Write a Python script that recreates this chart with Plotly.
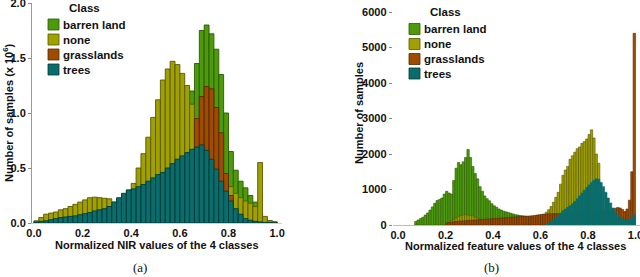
import numpy as np
import plotly.graph_objects as go

# ---------------- data ----------------
CLASSES = ["barren land", "none", "grasslands", "trees"]

# panel (a): 50 bins of width 0.02 over [0, 1], values in 10^6 samples
LEFT_BIN_WIDTH = 0.02
left_barren = [0]*29 + [0.30, 0.60, 0.90, 1.20, 1.45, 1.75, 1.80, 1.72, 1.58, 1.35,
                        1.00, 0.65, 0.48, 0.38, 0.32, 0.25, 0.19, 0.10, 0.04, 0.02, 0.01]
left_none = [0.02, 0.05, 0.08, 0.09, 0.10, 0.12, 0.13, 0.15, 0.17, 0.19,
             0.21, 0.23, 0.235, 0.23, 0.225, 0.22, 0.19, 0.22, 0.26, 0.30,
             0.36, 0.50, 0.63, 0.78, 0.96, 1.12, 1.30, 1.40, 1.47, 1.44,
             1.36, 1.25, 1.08, 0.90, 0.78, 0.70, 0.62, 0.55, 0.47, 0.40,
             0.33, 0.27, 0.23, 0.20, 0.18, 0.15, 0.55, 0.06, 0.02, 0.01]
left_grass = [0]*31 + [0.10, 0.45, 0.95, 1.15, 1.24, 1.22, 1.05, 0.82, 0.45, 0.25,
                       0.08, 0.02] + [0]*7
left_trees = [0.01, 0.015, 0.02, 0.03, 0.04, 0.05, 0.055, 0.06, 0.065, 0.075,
              0.085, 0.095, 0.11, 0.12, 0.13, 0.15, 0.19, 0.23, 0.27, 0.30,
              0.31, 0.33, 0.35, 0.38, 0.41, 0.44, 0.46, 0.50, 0.54, 0.58,
              0.61, 0.64, 0.67, 0.69, 0.71, 0.66, 0.58, 0.49, 0.38, 0.29,
              0.20, 0.13, 0.08, 0.04, 0.025, 0.015, 0.01, 0.005, 0.003, 0.001]

# panel (b): 100 bins of width 0.01 over [0, 1], values in samples
RIGHT_BIN_WIDTH = 0.01
right_barren = ([0]*7 +
                [100, 140, 180, 220, 280, 340, 420, 510, 610, 690,
                 720, 760, 870, 950, 900, 870, 1250, 1600, 1760, 1700,
                 1780, 1900, 2130, 1900, 1650, 1450, 1300, 1080, 950, 820,
                 740, 680, 600, 540, 500, 450, 420, 390, 370, 350,
                 330, 310, 290, 280, 270, 260, 250, 240, 230, 220,
                 210, 200, 190, 180, 170, 150, 130, 110, 90, 70,
                 50, 40, 30] + [0]*30)
right_none = ([0]*20 +
              [40, 70, 110, 150, 200, 240, 260, 280, 290, 280,
               270, 250, 220, 190, 170, 150, 140, 130, 120, 110] +
              [100]*15 +
              [110, 120, 140, 170, 210, 250, 300, 360, 430, 520,
               640, 780, 920, 1150, 1400, 1550, 1650, 1850, 1950, 2050,
               2150, 2200, 2300, 2350, 2420, 2550, 2680, 2450, 2000, 1740,
               900, 400, 200, 100, 50] + [20]*10)
right_grass = ([0]*20 +
               [60, 70, 80, 90, 100, 105, 110, 115, 120, 125,
                130, 135, 140, 145, 150, 155, 160, 165, 170, 175,
                180, 185, 190, 195, 200, 205, 210, 215, 220, 225,
                230, 235, 240, 245, 250, 255, 260, 270, 280, 290,
                300, 305, 310, 315, 320, 320, 320, 320, 320, 320,
                320, 320, 325, 325, 325, 330, 330, 330, 330, 330,
                335, 335, 340, 340, 345, 350, 360, 370, 390, 410,
                440, 470, 490, 480, 440, 380, 450, 700, 1500, 5400])
right_trees = ([0]*62 +
               [20, 50, 90, 140, 200, 270, 340, 400,
                450, 500, 540, 600, 660, 740, 820, 900, 980, 1060,
                1130, 1200, 1260, 1300, 1290, 1200, 1080, 920, 760, 620,
                480, 360, 270, 210, 180, 160, 150, 160, 200, 300])

left_ticks_x = [0.0, 0.2, 0.4, 0.6, 0.8, 1.0]
left_ticks_y = [0.0, 0.5, 1.0, 1.5, 2.0]
right_ticks_x = [0.0, 0.2, 0.4, 0.6, 0.8, 1.0]
right_ticks_y = [0, 1000, 2000, 3000, 4000, 5000, 6000]

# ---------------- style ----------------
W, H = 640, 277
FILL = ["#4d9a0c", "#a0a000", "#a04c00", "#0b6c6c"]
EDGE_L = ["#2a5a00", "#585800", "#552800", "#023b3b"]
EDGE_R = ["#2a5a00", "#585800", "#552800", "#0b6c6c"]
FONT = "Liberation Sans, Arial, sans-serif"
TXT = "#111111"


def centers(n, w):
    return [w * (i + 0.5) for i in range(n)]


def px(x):
    return x / W


def py(y):
    return 1 - y / H


fig = go.Figure()

left_series = [left_barren, left_none, left_grass, left_trees]
right_series = [right_barren, right_none, right_grass, right_trees]

for k, vals in enumerate(left_series):
    fig.add_trace(go.Bar(
        x=centers(len(vals), LEFT_BIN_WIDTH), y=[v if v else None for v in vals],
        width=LEFT_BIN_WIDTH, name=CLASSES[k], showlegend=False,
        marker=dict(color=FILL[k], line=dict(color=EDGE_L[k], width=0.9)),
        xaxis="x", yaxis="y"))

for k, vals in enumerate(right_series):
    fig.add_trace(go.Bar(
        x=centers(len(vals), RIGHT_BIN_WIDTH), y=[v if v else None for v in vals],
        width=RIGHT_BIN_WIDTH, name=CLASSES[k], showlegend=False,
        marker=dict(color=FILL[k], line=dict(color=EDGE_R[k], width=0.6)),
        xaxis="x2", yaxis="y2"))

tickfont = dict(family=FONT, size=11, color=TXT, weight="bold")

fig.update_layout(
    template="none",
    width=W, height=H, margin=dict(l=0, r=0, t=0, b=0, autoexpand=False),
    paper_bgcolor="white", plot_bgcolor="white",
    barmode="overlay", bargap=0, showlegend=False,
    xaxis=dict(domain=[px(32), px(282)], range=[-0.008, 1.02],
               tickvals=left_ticks_x, tickformat=".1f", ticks="",
               showgrid=False, zeroline=False, showline=True, automargin=False,
               linecolor="#cfcfcf", linewidth=1, layer="below traces",
               ticklabeloverflow="allow", tickfont=tickfont, anchor="y"),
    yaxis=dict(domain=[1 - 223 / H, 1 - 3 / H], range=[0, 2.0],
               tickvals=left_ticks_y, tickformat=".1f", ticks="outside",
               ticklen=3, tickcolor="#888888", showgrid=False, zeroline=False,
               showline=True, linecolor="#999999", linewidth=1, automargin=False,
               ticklabeloverflow="allow", tickfont=tickfont, anchor="x"),
    xaxis2=dict(domain=[px(392.8), 1.0], range=[-0.022, 1.019],
                tickvals=right_ticks_x, tickformat=".1f", ticks="",
                showgrid=False, zeroline=False, showline=True, automargin=False,
                linecolor="#bdbdbd", linewidth=1, layer="below traces",
                ticklabeloverflow="allow", tickfont=tickfont, anchor="y2"),
    yaxis2=dict(domain=[1 - 225 / H, 1 - 12 / H], range=[0, 6000],
                tickvals=right_ticks_y, ticks="outside", ticklen=3,
                tickcolor="#888888", showgrid=False, zeroline=False,
                showline=False, automargin=False, ticklabeloverflow="allow",
                tickfont=tickfont, anchor="x2"),
)

ann = []
shapes = []


def text(x, y, s, size=11, angle=0, family=FONT, bold=True, xanchor="center"):
    ann.append(dict(x=px(x), y=py(y), xref="paper", yref="paper", text=s,
                    showarrow=False, textangle=angle, xanchor=xanchor,
                    yanchor="middle",
                    font=dict(family=family, size=size, color=TXT,
                              weight="bold" if bold else "normal")))


# axis titles
text(157, 245, "Normalized NIR values of the 4 classes")
text(515, 246, "Normalized feature values of the 4 classes")
text(8, 113, "Number of samples (x 10<sup>6</sup>)", angle=-90)
text(359, 113, "Number of samples", angle=-90)

# captions
text(140, 267, "(a)", size=13, family="Liberation Serif, serif", bold=False)
text(491, 267, "(b)", size=13, family="Liberation Serif, serif", bold=False)

# legends
LEG = [dict(title=(84, 8), sq_x=(48, 59), rows=[24.5, 39.5, 54.5, 69.5], tx=61),
       dict(title=(445, 12), sq_x=(409, 420), rows=[29, 44, 59, 73.5], tx=422)]
for lg in LEG:
    text(lg["title"][0], lg["title"][1], "Class", size=11.5)
    for k, yc in enumerate(lg["rows"]):
        shapes.append(dict(type="rect", xref="paper", yref="paper",
                           x0=px(lg["sq_x"][0]), x1=px(lg["sq_x"][1]),
                           y0=py(yc - 5.5), y1=py(yc + 5.5),
                           fillcolor=FILL[k], line=dict(color=EDGE_L[k], width=0.8)))
        text(lg["tx"], yc, CLASSES[k], size=11.5, xanchor="left")

fig.update_layout(annotations=ann, shapes=shapes)
fig.write_html("out.html",
               config={"displayModeBar": False, "staticPlot": True},
               post_script="document.body.style.margin='0';"
                           "document.body.style.padding='0';"
                           "document.body.style.overflow='hidden';")
